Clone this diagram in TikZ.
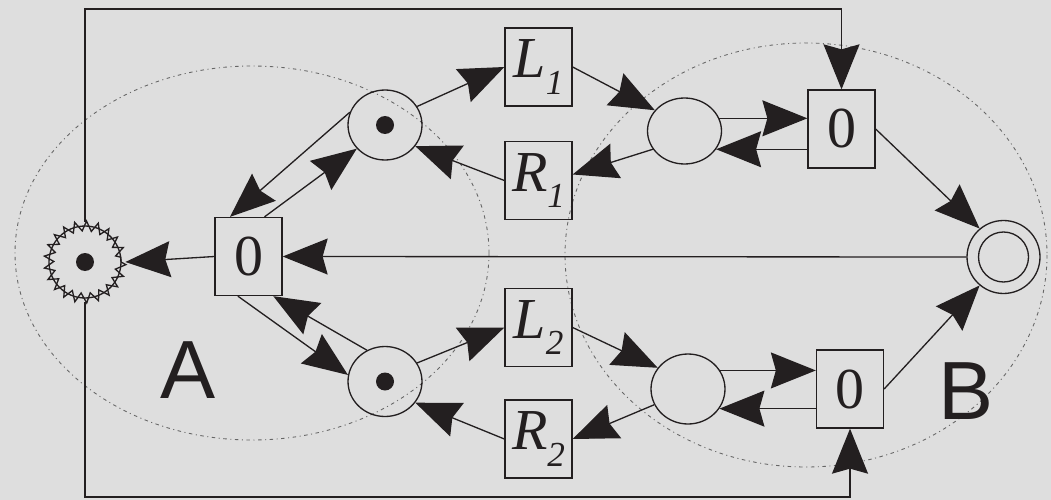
\documentclass[tikz,border=0pt]{standalone}
\usepackage{fontspec}
\setmainfont{Liberation Serif}
\newfontfamily\zonefont{Liberation Sans}
\usetikzlibrary{arrows.meta, shapes.geometric, decorations.pathmorphing, calc}
\definecolor{bgcol}{RGB}{222,222,222}
\definecolor{ink}{RGB}{35,31,32}
\newcommand{\tname}[2]{\textit{#1}\raisebox{-0.28em}{\fontsize{20}{20}\selectfont\textit{#2}}}

\begin{document}
\begin{tikzpicture}[x=0.02cm, y=-0.02cm, line width=0.75pt, color=ink,
  box/.style={draw, rectangle, minimum width=1.34cm, minimum height=1.56cm, inner sep=0pt, font=\fontsize{33}{34}\selectfont},
  place/.style={draw, ellipse, minimum width=1.48cm, minimum height=1.4cm, inner sep=0pt},
  arr/.style={-{Stealth[length=0.9cm, width=0.72cm, inset=0.1cm]}},
  zone/.style={draw=gray!80!black, line width=0.5pt, dash pattern=on 2pt off 2pt on 0.6pt off 2pt},
  big/.style={font=\zonefont\fontsize{47}{47}\selectfont, text=ink}]
        \path[use as bounding box, fill=bgcol] (0,0) rectangle (1051,500);
        \draw[zone] (252,253) ellipse (237 and 187);
        \draw[zone] (806,255) ellipse (241 and 212);
        \node[draw, circle, minimum size=1.44cm, outer sep=2.5pt] (star) at (85,262) {};
        \draw[decorate, decoration={zigzag, segment length=6pt, amplitude=2.8pt}] (star.center) circle (36);
        \node[box] (box0) at (248.5,256.5) {0};
        \node[place] (pu) at (385,125) {};
        \node[place] (pl) at (385,381.5) {};
        \node[box] (L1) at (538.5,67) {\tname{L}{1}};
        \node[box] (R1) at (538.5,180.5) {\tname{R}{1}};
        \node[box] (L2) at (538.5,327.5) {\tname{L}{2}};
        \node[box] (R2) at (538.5,439) {\tname{R}{2}};
        \node[place, minimum height=1.32cm] (qu) at (684.5,131) {};
        \node[place] (ql) at (688,389) {};
        \node[box] (bu) at (841.5,129) {0};
        \node[box] (bl) at (850,389) {0};
        \node[draw, circle, minimum size=1.46cm] (fin) at (1003.5,257) {};
        \draw (fin.center) circle (25);
        \fill (star.center) circle (9);
        \fill (pu) circle (9);
        \fill (pl) circle (9);
        \node[big] (A) at (188,370) {A};
        \node[big] (B) at (966,391) {B};
        \draw[arr] (box0.west) -- (star.east);
        \draw[arr] (fin.west) -- (box0.east);
        \draw[arr] (pu.160) -- (box0.115);
        \draw[arr] (box0.68) -- (pu.220);
        \draw[arr] (pu.30) -- (L1.west);
        \draw[arr] (R1.west) -- (pu.-35);
        \draw[arr] (box0.-105) -- (pl.170);
        \draw[arr] (pl.120) -- (box0.-58);
        \draw[arr] (pl.30) -- (L2.west);
        \draw[arr] (R2.west) -- (pl.-35);
        \draw[arr] (L1.east) -- (qu.145);
        \draw[arr] (qu.-150) -- (R1.10);
        \draw[arr] (qu.20) -- (qu.20 -| bu.west);
        \draw[arr] (bu.west |- qu.-30) -- (qu.-30);
        \draw[arr] (L2.east) -- (ql.145);
        \draw[arr] (ql.-155) -- (R2.east);
        \draw[arr] (ql.30) -- (ql.30 -| bl.west);
        \draw[arr] (bl.west |- ql.-32) -- (ql.-32);
        \draw[arr] (bu.east) -- (fin.130);
        \draw[arr] (bl.east) -- (fin.-130);
        \coordinate (topy) at (0,9);
        \coordinate (boty) at (0,497);
        \draw[arr] (star.north) |- (topy -| bu.north) -- (bu.north);
        \draw[arr] (star.south) |- (boty -| bl.south) -- (bl.south);
\end{tikzpicture}
\end{document}
